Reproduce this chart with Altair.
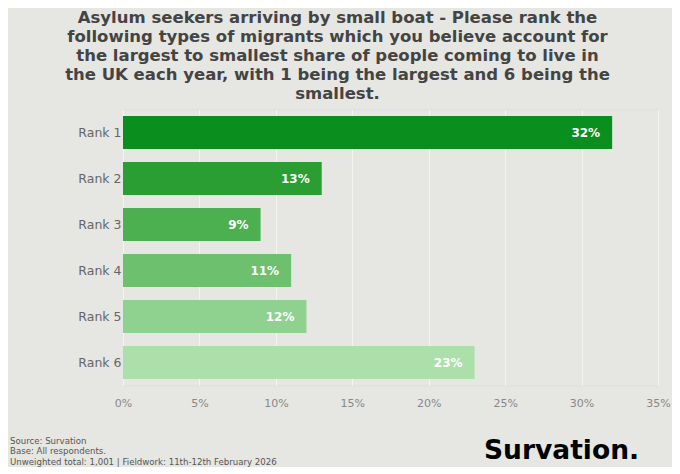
import altair as alt
import pandas as pd

ranks = ["Rank 1", "Rank 2", "Rank 3", "Rank 4", "Rank 5", "Rank 6"]
values = [32, 13, 9, 11, 12, 23]
colors = ["#0a8f1f", "#2a9d33", "#4caf50", "#6cc06e", "#8fd18e", "#addfab"]
x_ticks = [0, 5, 10, 15, 20, 25, 30, 35]

title_lines = [
    "Asylum seekers arriving by small boat - Please rank the",
    "following types of migrants which you believe account for",
    "the largest to smallest share of people coming to live in",
    "the UK each year, with 1 being the largest and 6 being the",
    "smallest.",
]
footer_text = "Source: Survation\nBase: All respondents.\nUnweighted total: 1,001 | Fieldwork: 11th-12th February 2026"
logo_text = "Survation."

df = pd.DataFrame({"rank": ranks, "value": values})
df["label"] = [f"{v}%" for v in values]

FONT = "DejaVu Sans"

x_enc = alt.X(
    "value:Q",
    scale=alt.Scale(domain=[0, 35], nice=False),
    axis=alt.Axis(
        values=x_ticks,
        labelExpr="datum.value + '%'",
        labelFlush=False,
        title=None,
        domain=False,
        ticks=False,
        grid=True,
        gridColor="#f4f4f2",
        gridWidth=1,
        labelColor="#888888",
        labelFontSize=11,
        labelFont=FONT,
        labelPadding=12,
    ),
)
y_enc = alt.Y(
    "rank:N",
    sort=ranks,
    scale=alt.Scale(paddingInner=0.28, paddingOuter=0.14),
    axis=alt.Axis(
        title=None,
        domain=False,
        ticks=False,
        labelColor="#666666",
        labelFontSize=12.5,
        labelFont=FONT,
        labelPadding=2,
    ),
)

base = alt.Chart(df)

bars = base.mark_bar().encode(
    x=x_enc,
    y=y_enc,
    color=alt.Color("rank:N", scale=alt.Scale(domain=ranks, range=colors), legend=None),
)

labels = base.mark_text(
    align="right", baseline="middle", dx=-12, color="white",
    font=FONT, fontWeight="bold", fontSize=12,
).encode(x="value:Q", y=alt.Y("rank:N", sort=ranks), text="label:N")

footer = alt.Chart(pd.DataFrame({"t": [footer_text]})).mark_text(
    align="left", baseline="top", lineBreak="\n", font=FONT, fontSize=8.6,
    lineHeight=10.5, color="#555555",
).encode(x=alt.value(-113), y=alt.value(327), text="t:N")

logo = alt.Chart(pd.DataFrame({"t": [logo_text]})).mark_text(
    align="left", baseline="middle", font=FONT, fontSize=26.5,
    fontWeight="bold", color="#000000",
).encode(x=alt.value(361), y=alt.value(341), text="t:N")

chart = alt.layer(bars, labels, footer, logo).properties(
    width=535,
    height=276,
    autosize=alt.AutoSizeParams(type="none"),
    padding={"left": 115, "top": 101.5, "right": 14, "bottom": 81},
    background="#e6e6e2",
    title=alt.TitleParams(
        text=title_lines,
        font=FONT,
        fontSize=16.5,
        fontWeight="bold",
        color="#444444",
        lineHeight=19,
        anchor="middle",
        dx=-53,
        offset=7,
    ),
).configure_view(stroke=None).configure(background="#e6e6e2")

chart.save("out.html", embed_options={"renderer": "svg", "actions": False})
